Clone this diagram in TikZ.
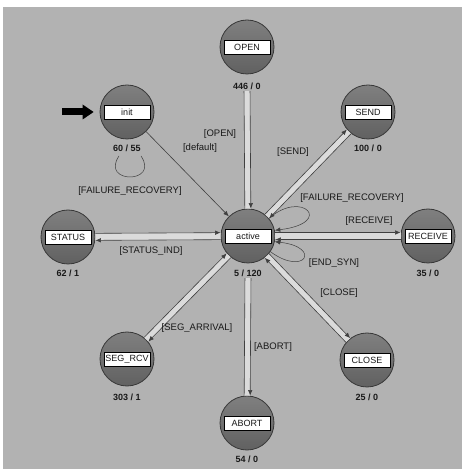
\documentclass[tikz,border=0pt]{standalone}
\usepackage{fontspec}
\setmainfont{Liberation Sans}
\usetikzlibrary{arrows.meta}
\definecolor{bgc}{gray}{0.70}
\definecolor{ctop}{gray}{0.50}
\definecolor{cbot}{gray}{0.38}
\definecolor{rimc}{gray}{0.22}
\definecolor{linec}{gray}{0.25}
\definecolor{bandc}{gray}{0.86}
\definecolor{txtc}{gray}{0.10}
\begin{document}
\begin{tikzpicture}[x=1pt,y=1pt,
  statec/.style={circle, minimum size=54pt, inner sep=0pt, draw=rimc, line width=0.8pt, top color=ctop, bottom color=cbot},
  namebox/.style={rectangle, draw=black, line width=0.8pt, fill=white, minimum width=46pt, minimum height=14pt, inner xsep=1.5pt, inner ysep=1pt, font=\fontsize{9}{10}\selectfont, text=txtc},
  countlbl/.style={font=\bfseries\fontsize{9}{10}\selectfont, text=txtc, inner sep=1.5pt},
  elbl/.style={font=\fontsize{9.5}{10}\selectfont, text=txtc, inner sep=0pt},
  trans/.style={draw=linec, line width=0.6pt},
  bandfill/.style={draw=bandc, line width=6pt},
  bandwide/.style={draw=bandc, line width=7pt},
  arr/.style={-{Latex[length=5.5pt,width=4.5pt]}},
  loopl/.style={draw=linec, line width=0.5pt},
  sl/.style={transform canvas={shift={#1}}},
]
\useasboundingbox (0,0) rectangle (463,469);
\fill[white] (0,0) rectangle (463,469);
\fill[bgc] (3,0) rectangle (462,462);

% states
\node[statec] (open) at (247,422) {};
\node[namebox] (openB) at (open) {OPEN};
\node[countlbl] (openN) at (247,383) {446 / 0};

\node[statec] (init) at (127,357) {};
\node[namebox] (initB) at (init) {init};
\node[countlbl] (initN) at (127,321) {60 / 55};

\node[statec] (send) at (368,357) {};
\node[namebox] (sendB) at (send) {SEND};
\node[countlbl] (sendN) at (368,321) {100 / 0};

\node[statec] (status) at (68,232) {};
\node[namebox] (statusB) at (status) {STATUS};
\node[countlbl] (statusN) at (68,196) {62 / 1};

\node[statec] (active) at (248,233) {};
\node[namebox] (activeB) at (active) {active};
\node[countlbl] (activeN) at (248,196) {5 / 120};

\node[statec] (receive) at (428,233) {};
\node[namebox] (receiveB) at (receive) {RECEIVE};
\node[countlbl] (receiveN) at (428,196) {35 / 0};

\node[statec] (segrcv) at (127,110) {};
\node[namebox] (segrcvB) at (segrcv) {SEG\_RCV};
\node[countlbl] (segrcvN) at (127,72) {303 / 1};

\node[statec] (close) at (367,109) {};
\node[namebox] (closeB) at (close) {CLOSE};
\node[countlbl] (closeN) at (367,72) {25 / 0};

\node[statec] (abort) at (247,46) {};
\node[namebox] (abortB) at (abort) {ABORT};
\node[countlbl] (abortN) at (247,10) {54 / 0};

% entry arrow
\coordinate (entry) at (62,357);
\draw[line width=7pt, -{Triangle[length=11pt,width=15pt,line width=0pt]}, shorten >=6pt] (entry) -- (init.west);

% bands
\draw[bandfill] (openN) -- (active);
\draw[trans, arr, sl={(3,0)}] (openN) -- (active);
\draw[trans, sl={(-3,0)}] (active) -- (openN);

\draw[trans, arr] (init) -- (active);

\draw[bandfill] (active) -- (send);
\draw[trans, arr, sl={(-2.1,2.1)}] (active) -- (send);
\draw[trans, arr, sl={(2.1,-2.1)}] (send) -- (active);

\draw[bandwide] (status) -- (active);
\draw[trans, arr, sl={(0,3.5)}] (status) -- (active);
\draw[trans, arr, sl={(0,-3.5)}] (active) -- (status);

\draw[bandwide] (active) -- (receive);
\draw[trans, arr, sl={(0,3.5)}] (active) -- (receive);
\draw[trans, arr, sl={(0,-3.5)}] (receive) -- (active);

\draw[bandfill] (active) -- (segrcv);
\draw[trans, arr, sl={(2.1,-2.1)}] (active) -- (segrcv);
\draw[trans, arr, sl={(-2.1,2.1)}] (segrcv) -- (active);

\draw[bandfill] (active) -- (close);
\draw[trans, arr, sl={(2.1,2.1)}] (active) -- (close);
\draw[trans, arr, sl={(-2.1,-2.1)}] (close) -- (active);

\draw[bandfill] (activeN) -- (abort);
\draw[trans, arr, sl={(3,0)}] (activeN) -- (abort);
\draw[trans, sl={(-3,0)}] (abort) -- (activeN);

% self loops
\coordinate (il1) at (119,313);
\coordinate (il2) at (141,313);
\draw[loopl] (il1) .. controls (100,285) and (160,285) .. (il2);
\draw[loopl, arr] (active.40) .. controls (302,280) and (335,246) .. (active.12);
\draw[loopl, arr] (active.-35) .. controls (305,192) and (322,222) .. (active.-12);

% edge labels
\node[elbl] (lOpen) at (220,335) {[OPEN]};
\node[elbl] (lDefault) at (200,321) {[default]};
\node[elbl] (lSend) at (293,317) {[SEND]};
\node[elbl] (lFailL) at (130,278) {[FAILURE\_RECOVERY]};
\node[elbl] (lFailR) at (352,271) {[FAILURE\_RECOVERY]};
\node[elbl] (lRecv) at (369,248) {[RECEIVE]};
\node[elbl] (lStatus) at (151,218) {[STATUS\_IND]};
\node[elbl] (lEnd) at (334,206) {[END\_SYN]};
\node[elbl] (lClose) at (339,176) {[CLOSE]};
\node[elbl] (lSeg) at (197,141) {[SEG\_ARRIVAL]};
\node[elbl] (lAbort) at (273,122) {[ABORT]};
\end{tikzpicture}
\end{document}
